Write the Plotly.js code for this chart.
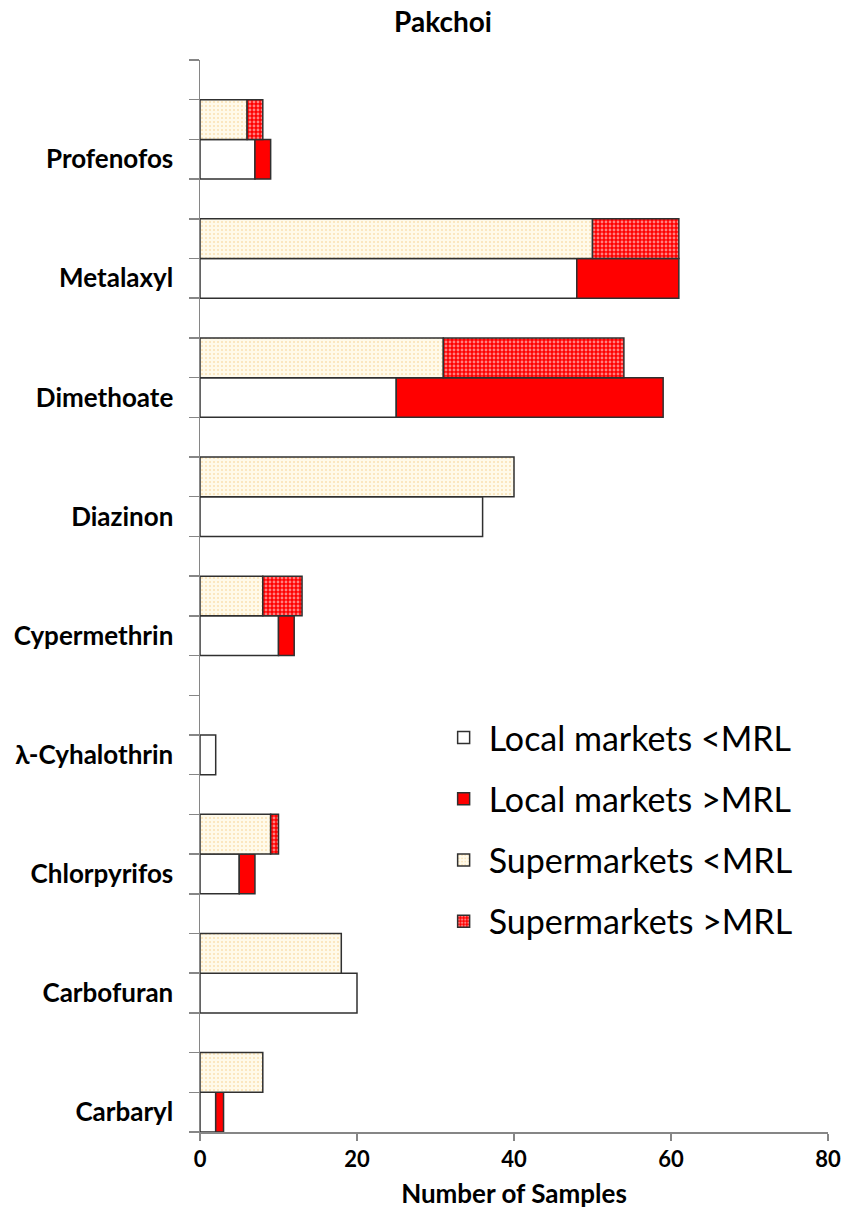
<!DOCTYPE html>
<html>
<head>
<meta charset="utf-8">
<script src="https://cdn.plot.ly/plotly-3.0.1.min.js"></script>
<style>html,body{margin:0;padding:0;background:#fff;}#chart{width:845px;height:1215px;}</style>
</head>
<body>
<div id="chart"></div>
<script>
// Categories from bottom to top
const categories = ["Carbaryl", "Carbofuran", "Chlorpyrifos", "λ-Cyhalothrin", "Cypermethrin", "Diazinon", "Dimethoate", "Metalaxyl", "Profenofos"];
// Number of samples
const localBelowMRL = [2, 20, 5, 2, 10, 36, 25, 48, 7];
const localAboveMRL = [1, 0, 2, 0, 2, 0, 34, 13, 2];
const superBelowMRL = [8, 18, 9, 0, 8, 40, 31, 50, 6];
const superAboveMRL = [0, 0, 1, 0, 5, 0, 23, 11, 2];
const seriesNames = ["Local markets <MRL", "Local markets >MRL", "Supermarkets <MRL", "Supermarkets >MRL"];
const xTicks = [0, 20, 40, 60, 80];

const FONT = "Lato, 'Open Sans', sans-serif";
const slot = 1 / 3;
const idx = categories.map((c, i) => i);
const nz = a => a.map(v => (v ? v : null));
const outline = { color: "#303030", width: 1.5 };

const traces = [
  {
    name: seriesNames[0], legendgroup: "a", type: "bar", orientation: "h",
    y: idx, x: nz(localBelowMRL), width: slot,
    marker: { color: "#ffffff", line: outline },
    hoverinfo: "x+name"
  },
  {
    name: seriesNames[1], legendgroup: "b", type: "bar", orientation: "h",
    y: idx, x: nz(localAboveMRL), base: localBelowMRL, width: slot,
    marker: { color: "#ff0000", line: outline },
    hoverinfo: "x+name"
  },
  {
    name: seriesNames[2], legendgroup: "c", type: "bar", orientation: "h",
    y: idx.map(i => i + slot), x: nz(superBelowMRL), width: slot,
    marker: { color: "#fffaea", line: outline,
      pattern: { shape: ".", fillmode: "overlay", bgcolor: "#fffaea", fgcolor: "#f6c87a", size: 4, solidity: 0.2 } },
    hoverinfo: "x+name"
  },
  {
    name: seriesNames[3], legendgroup: "d", type: "bar", orientation: "h",
    y: idx.map(i => i + slot), x: nz(superAboveMRL), base: superBelowMRL, width: slot,
    marker: { color: "#ff0000", line: outline,
      pattern: { shape: ".", fillmode: "overlay", bgcolor: "#ff0000", fgcolor: "#ffffff", size: 4, solidity: 0.4 } },
    hoverinfo: "x+name"
  }
];

const layout = {
  width: 845, height: 1215,
  margin: { l: 200, r: 17, t: 60, b: 83 },
  paper_bgcolor: "#ffffff", plot_bgcolor: "#ffffff",
  barmode: "overlay",
  font: { family: FONT, color: "#000000" },
  title: { text: "<b>Pakchoi</b>", font: { family: FONT, size: 28, color: "#000" },
    xref: "container", x: 443 / 845, xanchor: "center", yref: "container", y: 1 - 22 / 1215, yanchor: "middle" },
  xaxis: {
    range: [0, 80], tickmode: "array", tickvals: xTicks, ticktext: xTicks.map(v => "<b>" + v + "</b>"),
    ticks: "outside", ticklen: 7, tickcolor: "#868686", tickwidth: 1.5,
    showline: true, linecolor: "#868686", linewidth: 1.5,
    showgrid: false, zeroline: false,
    tickfont: { family: FONT, size: 22, color: "#000" },
    title: { text: "<b>Number of Samples</b>", font: { family: FONT, size: 26, color: "#000" }, standoff: 14 }
  },
  yaxis: {
    range: [-slot / 2, categories.length - slot / 2],
    tickmode: "array", tickvals: idx, ticktext: categories.map(c => "<b>" + c + "</b>"),
    ticks: "", ticklabelstandoff: 20,
    minor: { tickmode: "linear", tick0: -slot / 2, dtick: slot, ticks: "outside", ticklen: 10, tickcolor: "#868686", tickwidth: 1.5, showgrid: false },
    showline: true, linecolor: "#868686", linewidth: 1.5,
    showgrid: false, zeroline: false,
    tickfont: { family: FONT, size: 26, color: "#000" }
  },
  legend: {
    x: 0.38, xanchor: "left", y: 0.3946, yanchor: "top",
    traceorder: "grouped", tracegroupgap: 14,
    font: { family: FONT, size: 34, color: "#000" },
    bgcolor: "rgba(0,0,0,0)", itemwidth: 40
  },
  showlegend: true
};

Plotly.newPlot("chart", traces, layout, { displayModeBar: false, staticPlot: true });
</script>
</body>
</html>
